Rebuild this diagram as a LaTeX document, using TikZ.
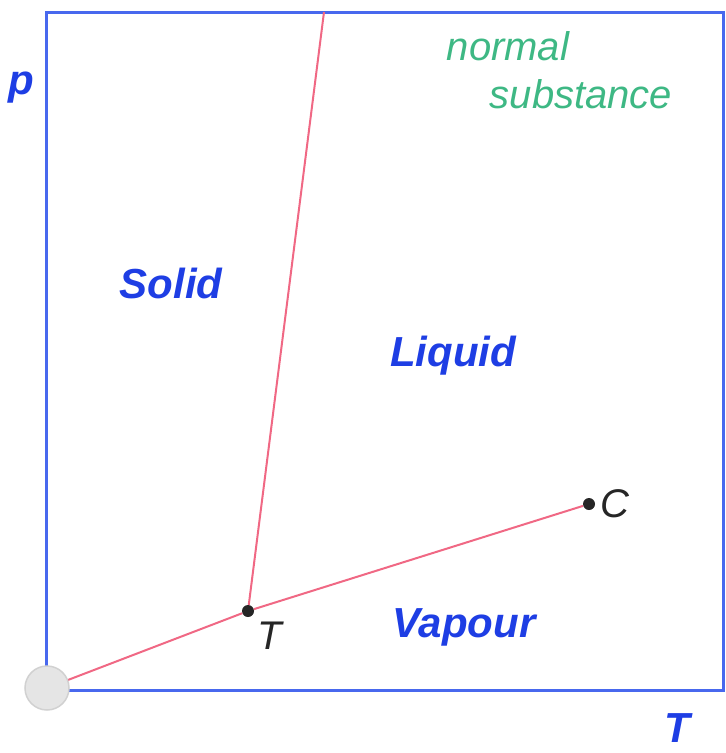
\documentclass[tikz,border=0pt]{standalone}
\usepackage{fontspec}
\setmainfont{Liberation Sans}
\usepackage{xcolor}
\usetikzlibrary{positioning}

\definecolor{axisblue}{RGB}{72,104,238}
\definecolor{textblue}{RGB}{30,62,228}
\definecolor{curvered}{RGB}{240,104,132}
\definecolor{penGreen}{RGB}{62,184,132}

\begin{document}
\begin{tikzpicture}[
    x=1pt, y=-1pt,
    phaselabel/.style={
        font=\fontsize{42}{42}\selectfont\bfseries\itshape,
        text=textblue,
        inner sep=0pt
    },
    pointlabel/.style={
        font=\fontsize{40}{40}\selectfont\itshape,
        text=black!85,
        inner sep=0pt
    },
    axislabel/.style={
        font=\fontsize{42}{42}\selectfont\bfseries\itshape,
        text=textblue,
        inner sep=0pt
    },
    notelabel/.style={
        font=\fontsize{40}{40}\selectfont\itshape,
        text=penGreen,
        inner sep=0pt
    },
    pointdot/.style={
        circle,
        fill=black!85,
        inner sep=0pt,
        minimum size=12pt
    },
    curve/.style={
        draw=curvered,
        line width=2pt
    },
    frame/.style={
        draw=axisblue,
        line width=3pt
    }
]
\useasboundingbox (0,0) rectangle (726,753);

% Frame
\coordinate (topleft) at (46,12);
\coordinate (bottomright) at (723,690);
\draw[frame] (topleft) rectangle (bottomright);

% Phase boundaries
\coordinate (origin) at (47,688);
\coordinate (melttop) at (324,12);
\node[pointdot] (triple) at (248,611) {};
\node[pointdot] (critical) at (589,504) {};

\draw[curve] (origin) -- (triple);
\draw[curve] (triple) -- (melttop);
\draw[curve] (triple) -- (critical);

% Corner marker
\node[circle, fill=black!10, draw=black!18, line width=1.5pt, minimum size=44pt, inner sep=0pt] (corner) at (origin) {};

% Labels
\node[pointlabel] (tlabel) at (270,636) {T};
\node[pointlabel, right=5pt of critical] (clabel) {C};

\node[phaselabel] (solid) at (171,283) {Solid};
\node[phaselabel] (liquid) at (453,356) {Liquid};
\node[phaselabel] (vapour) at (464,627) {Vapour};

\node[axislabel] (plabel) at (21,88) {p};
\node[axislabel] (Tlabel) at (677,728) {T};

\node[notelabel] (note1) at (508,46) {normal};
\node[notelabel] (note2) at (581,94) {substance};

\end{tikzpicture}
\end{document}
